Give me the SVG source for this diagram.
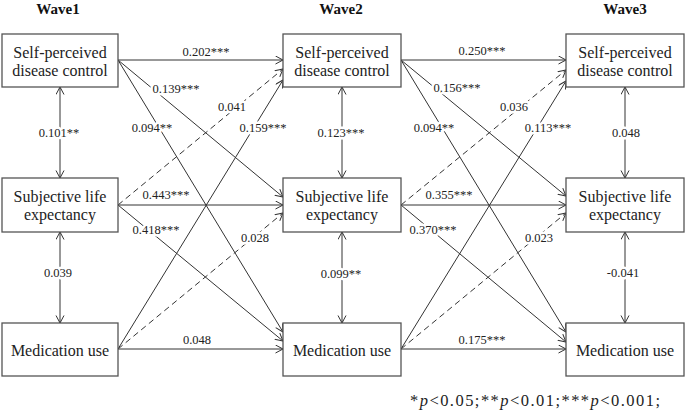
<svg xmlns="http://www.w3.org/2000/svg" width="685" height="412" viewBox="0 0 685 412" font-family="'Liberation Serif', 'Times New Roman', 'DejaVu Serif', serif">
<style>
text{font-family:'Liberation Serif','Times New Roman','DejaVu Serif',serif}
.box{fill:#fff;stroke:#555;stroke-width:1.3}
.nt{font-size:16px;fill:#222;text-anchor:middle}
.wt{font-size:15px;font-weight:bold;fill:#111;text-anchor:middle}
.e{fill:none;stroke:#333;stroke-width:1;marker-end:url(#ah)}
.d{stroke-dasharray:6 4}
.v{marker-start:url(#ah)}
.lb{font-size:12.5px;fill:#222;text-anchor:middle;stroke:#fff;stroke-width:5;paint-order:stroke;stroke-linejoin:round}
.fn{font-size:16.5px;fill:#222}
</style>
<defs>
<marker id="ah" markerUnits="userSpaceOnUse" markerWidth="10" markerHeight="10" refX="8" refY="4.5" orient="auto-start-reverse" viewBox="0 0 10 10">
<path d="M0.5,0.5 L8,4.5 L0.5,8.5" fill="none" stroke="#333" stroke-width="1"/>
</marker>
</defs>
<rect width="685" height="412" fill="#fff"/>
<g id="waves">
<text class="wt" x="58" y="14">Wave1</text>
<text class="wt" x="341" y="14">Wave2</text>
<text class="wt" x="625" y="14">Wave3</text>
</g>
<g id="connectors">
<line class="e" x1="118" y1="60" x2="283" y2="60"/>
<line class="e" x1="118" y1="60" x2="283" y2="197"/>
<line class="e" x1="118" y1="60" x2="283" y2="332"/>
<line class="e d" x1="118" y1="205" x2="283" y2="69"/>
<line class="e" x1="118" y1="205" x2="283" y2="205"/>
<line class="e" x1="118" y1="205" x2="283" y2="341"/>
<line class="e" x1="118" y1="349" x2="283" y2="80"/>
<line class="e d" x1="118" y1="349" x2="283" y2="213"/>
<line class="e" x1="118" y1="349" x2="283" y2="349"/>
<line class="e" x1="401" y1="60" x2="566" y2="60"/>
<line class="e" x1="401" y1="60" x2="566" y2="196"/>
<line class="e" x1="401" y1="60" x2="566" y2="332"/>
<line class="e d" x1="401" y1="205" x2="566" y2="70"/>
<line class="e" x1="401" y1="205" x2="566" y2="205"/>
<line class="e" x1="401" y1="205" x2="566" y2="342"/>
<line class="e" x1="401" y1="349" x2="566" y2="81"/>
<line class="e d" x1="401" y1="349" x2="566" y2="213"/>
<line class="e" x1="401" y1="349" x2="566" y2="349"/>
<line class="e v" x1="60" y1="87" x2="60" y2="178"/>
<line class="e v" x1="60" y1="232" x2="60" y2="323"/>
<line class="e v" x1="342" y1="87" x2="342" y2="178"/>
<line class="e v" x1="342" y1="232" x2="342" y2="323"/>
<line class="e v" x1="625" y1="87" x2="625" y2="178"/>
<line class="e v" x1="625" y1="232" x2="625" y2="323"/>
</g>
<g id="labels">
<text class="lb" x="206" y="56">0.202***</text>
<text class="lb" x="176" y="93">0.139***</text>
<text class="lb" x="152" y="132">0.094**</text>
<text class="lb" x="232" y="111">0.041</text>
<text class="lb" x="263" y="132">0.159***</text>
<text class="lb" x="59" y="137">0.101**</text>
<text class="lb" x="166" y="199">0.443***</text>
<text class="lb" x="156" y="234">0.418***</text>
<text class="lb" x="255" y="242">0.028</text>
<text class="lb" x="58" y="277">0.039</text>
<text class="lb" x="197" y="344">0.048</text>
<text class="lb" x="341" y="137">0.123***</text>
<text class="lb" x="341" y="278">0.099**</text>
<text class="lb" x="482" y="55">0.250***</text>
<text class="lb" x="457" y="92">0.156***</text>
<text class="lb" x="434" y="132">0.094**</text>
<text class="lb" x="514" y="111">0.036</text>
<text class="lb" x="548" y="132">0.113***</text>
<text class="lb" x="449" y="199">0.355***</text>
<text class="lb" x="433" y="234">0.370***</text>
<text class="lb" x="539" y="242">0.023</text>
<text class="lb" x="626" y="137">0.048</text>
<text class="lb" x="623" y="277">-0.041</text>
<text class="lb" x="482" y="344">0.175***</text>
</g>
<g id="w1-spdc"><rect class="box" x="2" y="34" width="116" height="53"/><text class="nt" x="60" y="58">Self-perceived</text><text class="nt" x="60" y="76">disease control</text></g>
<g id="w1-sle"><rect class="box" x="2" y="178" width="116" height="54"/><text class="nt" x="60" y="202">Subjective life</text><text class="nt" x="60" y="220">expectancy</text></g>
<g id="w1-mu"><rect class="box" x="2" y="323" width="116" height="53"/><text class="nt" x="60" y="356">Medication use</text></g>
<g id="w2-spdc"><rect class="box" x="283" y="34" width="118" height="53"/><text class="nt" x="342" y="58">Self-perceived</text><text class="nt" x="342" y="76">disease control</text></g>
<g id="w2-sle"><rect class="box" x="283" y="178" width="118" height="54"/><text class="nt" x="342" y="202">Subjective life</text><text class="nt" x="342" y="220">expectancy</text></g>
<g id="w2-mu"><rect class="box" x="283" y="323" width="118" height="53"/><text class="nt" x="342" y="356">Medication use</text></g>
<g id="w3-spdc"><rect class="box" x="566" y="34" width="118" height="53"/><text class="nt" x="625" y="58">Self-perceived</text><text class="nt" x="625" y="76">disease control</text></g>
<g id="w3-sle"><rect class="box" x="566" y="178" width="118" height="54"/><text class="nt" x="625" y="202">Subjective life</text><text class="nt" x="625" y="220">expectancy</text></g>
<g id="w3-mu"><rect class="box" x="566" y="323" width="118" height="53"/><text class="nt" x="625" y="356">Medication use</text></g>
<g id="footnote">
<text class="fn" x="410" y="406" textLength="250" lengthAdjust="spacing">*<tspan font-style="italic">p</tspan>&lt;0.05;**<tspan font-style="italic">p</tspan>&lt;0.01;***<tspan font-style="italic">p</tspan>&lt;0.001;</text>
</g>
</svg>
